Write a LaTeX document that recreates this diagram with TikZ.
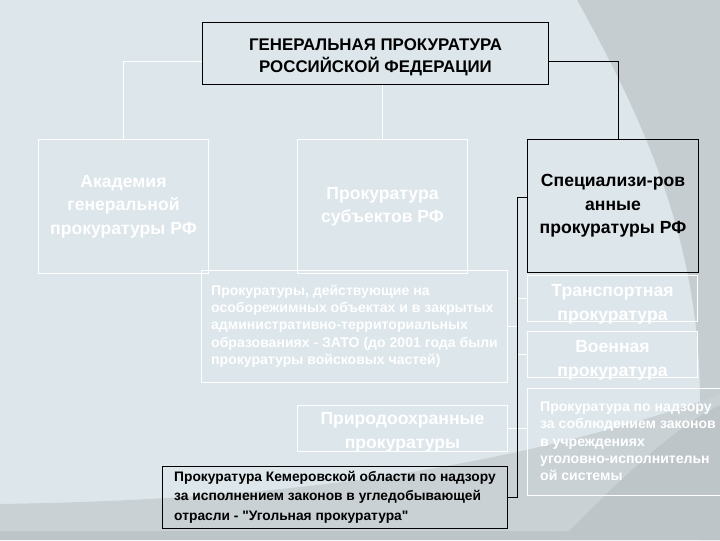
\documentclass[tikz,border=0pt]{standalone}
\usepackage{fontspec}
\setmainfont{Liberation Sans}
\usepackage{tikz}
\usetikzlibrary{
	positioning
}

\definecolor{slidebg}{HTML}{DCE6EB}
\definecolor{slidegray}{HTML}{C6CDD0}
\definecolor{bandgray}{HTML}{C9D1D5}
\definecolor{deepgray}{HTML}{BDC5C9}

% strut that pushes a box text a little down
\newcommand\boxstrut[1]{\rule{0pt}{#1}}

\tikzset{
	box/.style={draw=white, line width=0.7pt, text=white, align=center, inner sep=0pt},
	darkbox/.style={box, draw=black, text=black},
	flatbox/.style={box, inner ysep=-8pt, minimum height=1.15cm},
	bigtext/.style={font=\fontsize{12.5}{16.6}\selectfont\bfseries},
	smalltext/.style={font=\fontsize{10}{12.3}\selectfont\bfseries, align=left},
	wline/.style={draw=white, line width=0.7pt},
	bline/.style={draw=black, line width=0.7pt}
}

\begin{document}
\begin{tikzpicture}[x=0.025cm, y=-0.025cm]
		% slide background
		\useasboundingbox (0,0) rectangle (720,540);
		\fill[slidebg] (0,0) rectangle (720,540);
		\fill[slidegray] (577,0) .. controls (650,130) and (700,250) .. (700,400)
			-- (700,540) -- (720,540) -- (720,0) -- cycle;
		\fill[bandgray] (0,504) .. controls (250,500) and (480,478) .. (720,395)
			-- (720,540) -- (0,540) -- cycle;
		\fill[deepgray] (560,540) .. controls (620,480) and (670,430) .. (720,405)
			-- (720,540) -- cycle;
		\fill[deepgray] (0,531) rectangle (720,540);

		\draw
			node[darkbox, font=\fontsize{12}{15.6}\selectfont\bfseries,
				minimum width=8.625cm, minimum height=1.55cm] (gen) at (375.5,53)
				{\boxstrut{14.5pt}ГЕНЕРАЛЬНАЯ ПРОКУРАТУРА\\РОССИЙСКОЙ ФЕДЕРАЦИИ}
			node[box, bigtext, minimum width=4.225cm, minimum height=3.325cm] (acad) at (123.5,206.5)
				{Академия\\генеральной\\прокуратуры РФ}
			node[box, bigtext, minimum width=4.225cm, minimum height=3.325cm] (subj) at (382.5,206.5)
				{Прокуратура\\субъектов РФ}
			node[darkbox, bigtext, minimum width=4.25cm, minimum height=3.3cm] (spec) at (613,206)
				{Специализи-ров\\анные\\прокуратуры РФ}
			node[box, smalltext, minimum width=7.625cm, minimum height=2.8cm] (zato) at (354.5,326)
				{Прокуратуры, действующие на\\особорежимных объектах и в закрытых\\административно-территориальных\\образованиях - ЗАТО (до 2001 года были\\прокуратуры войсковых частей)}
			node[flatbox, bigtext, minimum width=4.225cm] (trans) at (612.5,298)
				{\boxstrut{17.5pt}Транспортная\\прокуратура}
			node[flatbox, bigtext, minimum width=4.225cm] (mil) at (612.5,354)
				{\boxstrut{17.5pt}Военная\\прокуратура}
			node[box, smalltext, minimum width=5cm, minimum height=2.675cm] (pen) at (628,441.5)
				{Прокуратура по надзору\\за соблюдением законов\\в учреждениях\\уголовно-исполнительн\\ой системы}
			node[flatbox, bigtext, minimum width=5.225cm] (nat) at (402.5,428)
				{\boxstrut{14.5pt}Природоохранные\\прокуратуры}
			node[darkbox, smalltext, font=\fontsize{9.8}{13.9}\selectfont\bfseries,
				minimum width=8.6cm, minimum height=1.55cm] (kem) at (335,497)
				{Прокуратура Кемеровской области по надзору\\за исполнением законов в угледобывающей\\отрасли - \textquotedbl Угольная прокуратура\textquotedbl}
		;

		% links from the top box
		\draw[wline] ([yshift=-0.2cm]gen.west) -| (acad.north);
		\draw[wline] (subj.north) -- (subj.north |- gen.south);
		\draw[bline] ([yshift=-0.2cm]gen.east) -| ([xshift=0.14cm]spec.north);

		% white stubs onto the spine
		\coordinate (bus) at (517,197);
		\draw[wline] (trans.west) -- (trans.west -| bus);
		\draw[wline] (zato.east) -- (zato.east -| bus);
		\draw[wline] (mil.west) -- (mil.west -| bus);
		\draw[wline] (nat.east) -- (nat.east -| pen.west);

		% black spine
		\draw[bline] (spec.west |- bus) -- (bus) -- (bus |- kem.east) -- (kem.east);
	\end{tikzpicture}
\end{document}
